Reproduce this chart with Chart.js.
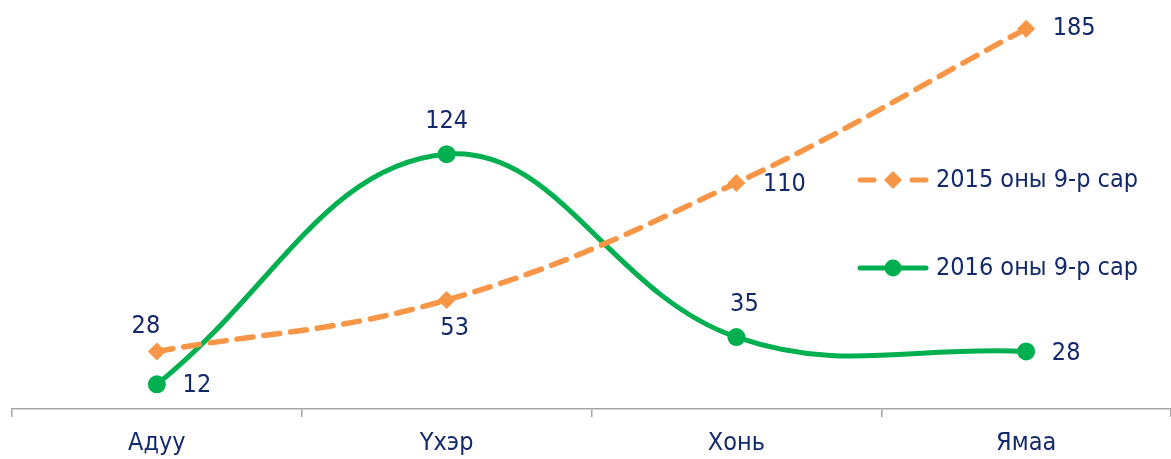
<!DOCTYPE html>
<html>
<head>
<meta charset="utf-8">
<script src="https://cdn.jsdelivr.net/npm/chart.js@4.4.1/dist/chart.umd.min.js"></script>
<style>
html,body{margin:0;padding:0;background:#fff;}
#wrap{width:1171px;height:459px;position:relative;}
</style>
</head>
<body>
<div id="wrap"><canvas id="c"></canvas></div>
<script>
const categories = ['Адуу', 'Үхэр', 'Хонь', 'Ямаа'];
const series2015 = [28, 53, 110, 185];
const series2016 = [12, 124, 35, 28];
const seriesNames = ['2015 оны 9-р сар', '2016 оны 9-р сар'];

const ORANGE = '#F79646';
const GREEN = '#00B050';
const NAVY = '#13296B';
const FONT = '"DejaVu Sans Condensed", "DejaVu Sans", sans-serif';
const FSIZE = 25;

const labelOffsets = [
  [[-11, -25], [8, 28], [48, 2], [48, 0]],
  [[40, 1], [0, -33], [8, -33], [40, 2]]
];

const labelPlugin = {
  id: 'labels',
  afterDatasetsDraw(chart) {
    const ctx = chart.ctx;
    ctx.save();
    ctx.font = FSIZE + 'px ' + FONT;
    ctx.fillStyle = NAVY;
    ctx.textAlign = 'center';
    ctx.textBaseline = 'middle';
    chart.data.datasets.forEach((ds, di) => {
      const meta = chart.getDatasetMeta(di);
      meta.data.forEach((pt, i) => {
        const o = labelOffsets[di][i];
        ctx.fillText(String(ds.data[i]), pt.x + o[0], pt.y + o[1]);
      });
    });
    ctx.restore();
  }
};

const legendPlugin = {
  id: 'customLegend',
  afterDraw(chart) {
    const ctx = chart.ctx;
    const rows = [
      {y: 180, color: ORANGE, style: 'diamond', text: seriesNames[0]},
      {y: 268, color: GREEN, style: 'circle', text: seriesNames[1]}
    ];
    ctx.save();
    rows.forEach(r => {
      ctx.strokeStyle = r.color;
      ctx.lineWidth = 5;
      ctx.lineCap = 'round';
      ctx.beginPath();
      if (r.style === 'diamond') {
        ctx.moveTo(860, r.y); ctx.lineTo(874, r.y);
        ctx.moveTo(912, r.y); ctx.lineTo(926, r.y);
      } else {
        ctx.moveTo(860, r.y); ctx.lineTo(926, r.y);
      }
      ctx.stroke();
      ctx.fillStyle = r.color;
      ctx.beginPath();
      if (r.style === 'diamond') {
        ctx.moveTo(893, r.y - 9); ctx.lineTo(902, r.y); ctx.lineTo(893, r.y + 9); ctx.lineTo(884, r.y);
        ctx.closePath();
      } else {
        ctx.arc(893, r.y, 8.5, 0, Math.PI * 2);
      }
      ctx.fill();
      ctx.font = FSIZE + 'px ' + FONT;
      ctx.fillStyle = NAVY;
      ctx.textAlign = 'left';
      ctx.textBaseline = 'middle';
      ctx.fillText(r.text, 936, r.y);
    });
    ctx.restore();
  }
};

new Chart(document.getElementById('c'), {
  type: 'line',
  data: {
    labels: categories,
    datasets: [
      {
        label: seriesNames[0],
        data: series2015,
        borderColor: ORANGE,
        backgroundColor: ORANGE,
        borderWidth: 5.5,
        borderDash: [16, 11],
        borderCapStyle: 'round',
        tension: 0.4,
        pointStyle: 'rectRot',
        pointRadius: 9,
        pointBorderWidth: 0,
        pointBackgroundColor: ORANGE
      },
      {
        label: seriesNames[1],
        data: series2016,
        borderColor: GREEN,
        backgroundColor: GREEN,
        borderWidth: 5,
        borderCapStyle: 'round',
        tension: 0.4,
        pointStyle: 'circle',
        pointRadius: 9,
        pointBorderWidth: 0,
        pointBackgroundColor: GREEN
      }
    ]
  },
  options: {
    responsive: true,
    maintainAspectRatio: false,
    animation: false,
    layout: {autoPadding: false, padding: {left: 12, right: 0, top: 0, bottom: 0}},
    plugins: {legend: {display: false}, tooltip: {enabled: false}},
    scales: {
      x: {
        offset: true,
        grid: {display: true, drawOnChartArea: false, drawTicks: true, tickLength: 8, color: '#A6A6A6', lineWidth: 1.5, offset: true},
        border: {display: true, color: '#A6A6A6', width: 1.5},
        ticks: {color: NAVY, font: {family: FONT, size: FSIZE}, padding: 11, maxRotation: 0},
        afterFit(s) { s.height = 50; }
      },
      y: {
        display: false,
        min: 0,
        max: 199
      }
    }
  },
  plugins: [labelPlugin, legendPlugin]
});
</script>
</body>
</html>
